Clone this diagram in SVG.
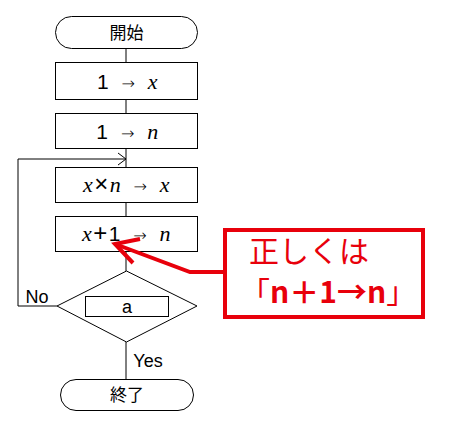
<svg xmlns="http://www.w3.org/2000/svg" width="449" height="426" viewBox="0 0 449 426">
<style>
.s{fill:#fff;stroke:#000;stroke-width:1}
.c{fill:none;stroke:#000;stroke-width:1}
.t{font-family:"Liberation Sans","Noto Sans CJK JP",sans-serif;font-size:18px;fill:#000;text-anchor:middle}
.b{font-size:21px;font-weight:300;letter-spacing:1.5px;word-spacing:4px}
.m{font-family:"Liberation Serif",serif;font-style:italic;font-size:22px}
.a{font-family:"DejaVu Sans",sans-serif;font-size:16px}
.x{font-size:24px}
.j{font-family:"Noto Sans CJK JP",sans-serif;font-size:17px}
.r{fill:none;stroke:#e8000b;stroke-width:4}
.rt{font-family:"Noto Sans CJK JP",sans-serif;font-size:30px;fill:#e8000b}
</style>
<rect width="449" height="426" fill="#fff"/>
<g id="connectors">
<line class="c" x1="126" y1="48" x2="126" y2="62"/>
<line class="c" x1="126" y1="99" x2="126" y2="113"/>
<line class="c" x1="126" y1="148" x2="126" y2="167"/>
<line class="c" x1="126" y1="202" x2="126" y2="216"/>
<line class="c" x1="126" y1="251" x2="126" y2="271"/>
<line class="c" x1="126" y1="342" x2="126" y2="379"/>
<polyline class="c" points="57,306 18,306 18,159 126,159"/>
<polyline class="c" points="118,153 126,159 118,165"/>
<text class="t" x="37" y="303">No</text>
<text class="t" x="148" y="367">Yes</text>
</g>
<g id="start">
<rect class="s" x="55.5" y="16.5" width="142" height="32" rx="16"/>
<text class="t j" x="126.5" y="39">開始</text>
</g>
<g id="box1">
<rect class="s" x="55.5" y="62.5" width="142" height="37"/>
<text class="t b" x="128" y="89">1 <tspan class="a">→</tspan> <tspan class="m">x</tspan></text>
</g>
<g id="box2">
<rect class="s" x="55.5" y="113.5" width="142" height="35"/>
<text class="t b" x="128" y="139">1 <tspan class="a">→</tspan>  <tspan class="m">n</tspan></text>
</g>
<g id="box3">
<rect class="s" x="55.5" y="167.5" width="142" height="35"/>
<text class="t b" x="127" y="192"><tspan class="m">x</tspan><tspan class="x">×</tspan><tspan class="m">n</tspan> <tspan class="a">→</tspan> <tspan class="m">x</tspan></text>
</g>
<g id="box4">
<rect class="s" x="55.5" y="216.5" width="142" height="35"/>
<text class="t b" x="127" y="241"><tspan class="m">x</tspan><tspan class="x">+</tspan>1 <tspan class="a">→</tspan> <tspan class="m">n</tspan></text>
</g>
<g id="decision">
<polygon class="s" points="126.5,271 197,306 126.5,342 57,306"/>
<rect class="s" x="85.5" y="296.5" width="83" height="20"/>
<text class="t" x="127" y="313">a</text>
</g>
<g id="end">
<rect class="s" x="60.5" y="379.5" width="133" height="31" rx="15.5"/>
<text class="t j" x="127" y="401">終了</text>
</g>
<g id="note">
<rect class="r" x="225" y="230" width="198" height="87"/>
<text class="rt" x="249" y="262">正しくは</text>
<text class="rt" x="240" y="303">「<tspan font-weight="bold">n＋1→n</tspan>」</text>
<polyline class="r" points="225,272 190,272 115,244"/>
<polyline class="r" points="140,239 115,244 133,263"/>
</g>
</svg>
